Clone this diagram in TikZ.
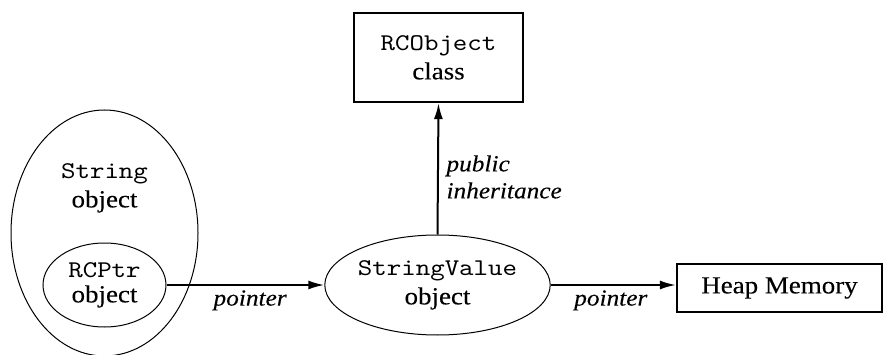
\documentclass[tikz,border=0pt]{standalone}
\usepackage{fontspec}
\setmainfont{Liberation Serif}[FakeStretch=1.1,FakeBold=0.15]
\setmonofont{lmmono10-regular}[Extension=.otf,FakeStretch=1.15]
\usetikzlibrary{shapes.geometric,arrows.meta}
\tikzset{
  ell/.style={draw, ellipse, line width=1pt, inner sep=0pt},
  boxnode/.style={draw, rectangle, line width=2.2pt, inner sep=0pt},
  txt/.style={align=center, font=\fontsize{24.5}{29}\selectfont},
  lbl/.style={font=\fontsize{23}{27}\selectfont\itshape},
  arr/.style={line width=2pt, -{Latex[length=16pt,width=9pt]}},
}
\newcommand{\cw}[1]{{\ttfamily\fontsize{24}{29}\selectfont #1}}
\begin{document}
\begin{tikzpicture}[x=1pt,y=-1pt]
\useasboundingbox (0,0) rectangle (885,355);
% String object outer ellipse
\node[ell, minimum width=187pt, minimum height=246pt] (string) at (104.5,233) {};
\node[txt] (stringlbl) at (104.5,188) {\cw{String}\\object};
% RCPtr object
\node[ell, minimum width=123pt, minimum height=84pt, txt, font=\fontsize{24.5}{25}\selectfont] (rcptr) at (104.5,285) {\cw{RCPtr}\\object};
% StringValue object
\node[ell, minimum width=207pt, minimum height=100pt, txt] (sv) at (437.5,285) {\cw{StringValue}\\object};
% RCObject class
\node[boxnode, minimum width=169pt, minimum height=89pt, txt] (rco) at (438.5,57.5) {\cw{RCObject}\\class};
% Heap Memory
\node[boxnode, minimum width=205pt, minimum height=48pt, txt] (heap) at (779.5,288) {Heap Memory};
% connectors
\draw[arr] (rcptr.east) -- (sv.west) node[lbl, pos=0.53, below=1pt] (p1) {pointer};
\draw[arr] (sv.east) -- (sv.east -| heap.west) node[lbl, pos=0.48, below=1pt] (p2) {pointer};
\draw[arr] (sv.north) -- (rco.south);
\node[lbl, anchor=west, align=left] (inh) at (443,177) {public\\inheritance};
\end{tikzpicture}
\end{document}
